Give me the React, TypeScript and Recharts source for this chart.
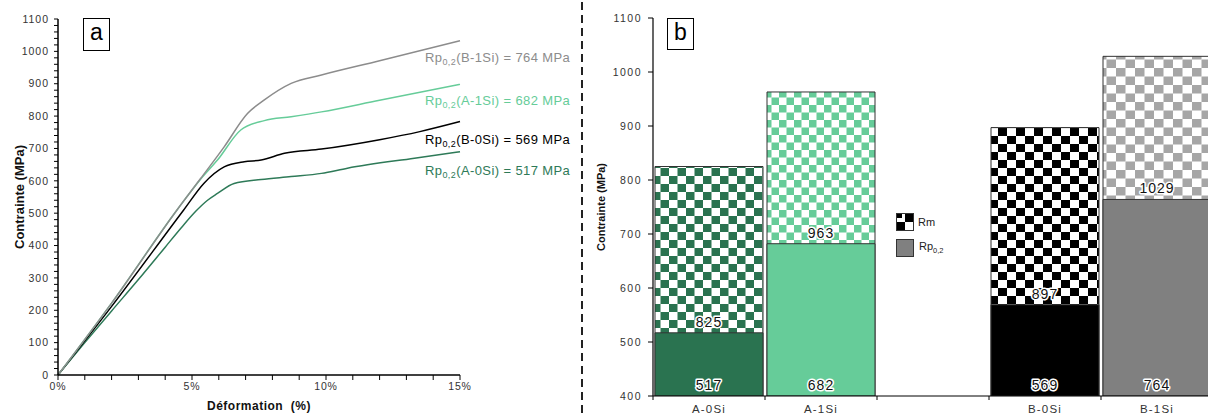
import React from 'react';
import { LineChart, Line, BarChart, Bar, XAxis, YAxis, Cell, LabelList, Legend } from 'recharts';

// curve (a): strain in %, stress in MPa
const b1siStrain = [0, 2, 4.44, 5.32, 6.2, 7.07, 7.7, 8.7, 9.83, 12, 15];
const b1siStress = [0, 222, 510, 607, 705, 808, 850, 901, 927, 971, 1033];
const a1siStrain = [0, 2, 4.44, 5.32, 5.95, 6.82, 7.7, 8.7, 9.83, 12, 15];
const a1siStress = [0, 222, 510, 605, 664, 757, 786, 798, 813, 849, 898];
const b0siStrain = [0, 2, 4.69, 5.44, 6.2, 6.95, 7.58, 8.45, 9.83, 12, 13.5, 15];
const b0siStress = [0, 212, 510, 592, 643, 659, 664, 685, 698, 727, 752, 783];
const a0siStrain = [0, 1, 2, 3, 4, 4.6, 5.13, 5.58, 5.95, 6.57, 7.58, 8.7, 9.83, 10.8, 13.3, 15];
const a0siStress = [0, 100, 198, 295, 395, 455, 505, 540, 561, 592, 604, 613, 623, 639, 670, 690];

// chart (b)
const categories = ['A-0Si', 'A-1Si', '', 'B-0Si', 'B-1Si'];
const rpValues = [517, 682, null, 569, 764];
const rmValues = [825, 963, null, 897, 1029];

const strainTicks = [0, 1, 2, 3, 4, 5, 6, 7, 8, 9, 10, 11, 12, 13, 14, 15];
const strainLabels = ['0%', '5%', '10%', '15%'];
const stressTicksA = Array.from({ length: 56 }, (_, i) => i * 20);
const stressTicksB = [400, 500, 600, 700, 800, 900, 1000, 1100];

const FONT = "'Liberation Sans', Arial, sans-serif";
const solidColors = ['#2a7350', '#66cc99', 'none', '#000000', '#808080'];
const patternIds = ['chkA0', 'chkA1', '', 'chkB0', 'chkB1'];
const curveColors = { b1: '#8c8c8c', a1: '#66cc99', b0: '#000000', a0: '#2e7a58' };

const toPoints = (xs: number[], ys: number[]) => xs.map((x, i) => ({ x, y: ys[i] }));

const barData = categories.map((name, i) => ({ name, rp: rpValues[i], rm: rmValues[i] }));

const BAND = (629 - 69) / categories.length;

const halo: any = { stroke: '#fff', strokeWidth: 3, paintOrder: 'stroke', strokeLinejoin: 'round' };

const BandTick = (props: any) => {
  const { x, y, payload } = props;
  return (
    <g>
      <line x1={x - BAND / 2} y1={y} x2={x - BAND / 2} y2={y + 4} stroke="#000" />
      <text x={x} y={y + 13} textAnchor="middle" dominantBaseline="central" fontSize={11.5}
        letterSpacing={1.2} fill="#333" fontFamily={FONT}>{payload.value}</text>
    </g>
  );
};

const RpLabel = (props: any) => {
  const vb = props.viewBox || props;
  if (props.value == null) return null;
  return (
    <text x={vb.x + vb.width / 2} y={vb.y + vb.height - 11} textAnchor="middle" dominantBaseline="central"
      fontSize={14} letterSpacing={1} fill="#111" fontFamily={FONT} style={halo}>{props.value}</text>
  );
};

const RmLabel = (props: any) => {
  const vb = props.viewBox || props;
  if (props.value == null) return null;
  return (
    <text x={vb.x + vb.width / 2} y={vb.y - 11} textAnchor="middle" dominantBaseline="central"
      fontSize={14} letterSpacing={1} fill="#111" fontFamily={FONT} style={halo}>{props.value}</text>
  );
};

const renderLegend = () => (
  <div style={{ fontFamily: FONT, fontSize: 11, color: '#222' }}>
    <div style={{ display: 'flex', alignItems: 'center', height: 18, marginBottom: 8 }}>
      <svg width={18} height={18}>
        <rect x={0.5} y={0.5} width={17} height={17} fill="#fff" stroke="#333" />
        <rect x={9} y={1} width={8} height={8} fill="#000" />
        <rect x={1} y={9} width={8} height={8} fill="#000" />
        <rect x={1} y={1} width={5} height={4} fill="#000" />
      </svg>
      <span style={{ marginLeft: 4, color: '#222' }}>Rm</span>
    </div>
    <div style={{ display: 'flex', alignItems: 'center', height: 18 }}>
      <svg width={18} height={18}>
        <rect x={0.5} y={0.5} width={17} height={17} fill="#808080" stroke="#333" />
      </svg>
      <span style={{ marginLeft: 5, color: '#222' }}>Rp<sub style={{ fontSize: 7.5, color: '#222' }}>0,2</sub></span>
    </div>
  </div>
);

const checker = (id: string, w: number, h: number, color: string) => (
  <pattern id={id} width={w} height={h} patternUnits="userSpaceOnUse" key={id}>
    <rect width={w} height={h} fill="#fff" />
    <rect x={0} y={0} width={w / 2} height={h / 2} fill={color} />
    <rect x={w / 2} y={h / 2} width={w / 2} height={h / 2} fill={color} />
  </pattern>
);

const noteTops = [60, 103, 142, 173];
const noteOrder = [4, 1, 3, 0];
const noteColors = [curveColors.b1, curveColors.a1, curveColors.b0, curveColors.a0];

const App = () => {
  return (
    <div style={{ position: 'absolute', left: 0, top: 0, width: 1208, height: 416, overflow: 'hidden', background: '#fff', fontFamily: FONT }}>
      {/* (a) stress-strain curves */}
      <div style={{ position: 'absolute', left: 0, top: 0 }}>
        <LineChart width={584} height={416} margin={{ top: 19, right: 124, bottom: 0, left: 0 }}>
          <XAxis type="number" dataKey="x" domain={[0, 15]} ticks={strainTicks} interval={0}
            tickFormatter={(v) => (v % 5 === 0 ? strainLabels[v / 5] : '')}
            height={41} tickSize={5} tickMargin={3}
            axisLine={{ stroke: '#000', strokeWidth: 1.5 }} tickLine={{ stroke: '#000' }}
            tick={{ fontSize: 10.5, fill: '#333', letterSpacing: 0.9, fontFamily: FONT }}
            label={{ value: 'Déformation\u00A0 (%)', position: 'insideBottom', offset: 6,
              style: { fontSize: 12, fontWeight: 'bold', fill: '#111', letterSpacing: 0.5, fontFamily: FONT } }} />
          <YAxis type="number" domain={[0, 1100]} ticks={stressTicksA} interval={0}
            tickFormatter={(v) => (v % 100 === 0 ? String(v) : '')}
            width={58} tickSize={4} tickMargin={5}
            axisLine={{ stroke: '#000', strokeWidth: 1.5 }} tickLine={{ stroke: '#000' }}
            tick={{ fontSize: 10.5, fill: '#333', letterSpacing: 1, fontFamily: FONT }}
            label={{ value: 'Contrainte (MPa)', angle: -90, position: 'insideLeft', offset: 19,
              style: { textAnchor: 'middle', fontSize: 13, fontWeight: 'bold', fill: '#111', fontFamily: FONT } }} />
          <Line data={toPoints(a0siStrain, a0siStress)} dataKey="y" type="monotone" stroke={curveColors.a0} strokeWidth={1.5} dot={false} isAnimationActive={false} />
          <Line data={toPoints(b0siStrain, b0siStress)} dataKey="y" type="monotone" stroke={curveColors.b0} strokeWidth={1.5} dot={false} isAnimationActive={false} />
          <Line data={toPoints(a1siStrain, a1siStress)} dataKey="y" type="monotone" stroke={curveColors.a1} strokeWidth={1.5} dot={false} isAnimationActive={false} />
          <Line data={toPoints(b1siStrain, b1siStress)} dataKey="y" type="monotone" stroke={curveColors.b1} strokeWidth={1.5} dot={false} isAnimationActive={false} />
        </LineChart>
      </div>

      <div style={{ position: 'absolute', left: 83, top: 18, width: 25, height: 31, border: '1.5px solid #000',
        display: 'flex', alignItems: 'center', justifyContent: 'center', fontSize: 23, lineHeight: 1 }}>
        <span style={{ marginTop: -4 }}>a</span>
      </div>

      {noteOrder.map((ci, k) => (
        <div key={ci} style={{ position: 'absolute', left: 425, top: noteTops[k], transform: 'translateY(-50%)',
          fontSize: 13, letterSpacing: 0.4, color: noteColors[k], whiteSpace: 'nowrap', lineHeight: '16px' }}>
          Rp<sub style={{ fontSize: 9 }}>0,2</sub>({categories[ci]}) = {rpValues[ci]} MPa
        </div>
      ))}

      {/* divider */}
      <svg style={{ position: 'absolute', left: 578, top: 0 }} width={8} height={416}>
        <line x1={4} y1={2} x2={4} y2={416} stroke="#222" strokeWidth={2} strokeDasharray="8 5" />
      </svg>

      {/* (b) Rm / Rp0,2 bars */}
      <div style={{ position: 'absolute', left: 584, top: 0 }}>
        <BarChart width={629} height={416} data={barData} barCategoryGap={2}
          margin={{ top: 18, right: 0, bottom: 0, left: 0 }}>
          <defs>
            {checker('chkA0', 17, 16, solidColors[0])}
            {checker('chkA1', 15, 15, solidColors[1])}
            {checker('chkB0', 18, 16, solidColors[3])}
            {checker('chkB1', 19, 17, '#a6a6a6')}
          </defs>
          <XAxis xAxisId="main" dataKey="name" interval={0} height={20} tickSize={0} tickMargin={0}
            tickLine={false} axisLine={{ stroke: '#000' }} tick={<BandTick />} />
          <XAxis xAxisId="over" dataKey="name" hide />
          <YAxis type="number" domain={[400, 1100]} ticks={stressTicksB} interval={0} allowDataOverflow
            width={69} tickSize={5} tickMargin={6}
            axisLine={{ stroke: '#000', strokeWidth: 1.2 }} tickLine={{ stroke: '#000' }}
            tick={{ fontSize: 10.5, fill: '#333', letterSpacing: 1.5, fontFamily: FONT }}
            label={{ value: 'Contrainte (MPa)', angle: -90, position: 'insideLeft', offset: 17,
              style: { textAnchor: 'middle', fontSize: 11, fontWeight: 'bold', fill: '#111', fontFamily: FONT } }} />
          <Legend layout="vertical" align="center" verticalAlign="middle" content={renderLegend}
            wrapperStyle={{ left: 312, top: 213, width: 80 }} />
          <Bar xAxisId="main" dataKey="rm" name="Rm" stroke="#333" strokeWidth={1} isAnimationActive={false}>
            {barData.map((d, i) => <Cell key={i} fill={`url(#${patternIds[i]})`} />)}
          </Bar>
          <Bar xAxisId="over" dataKey="rp" name="Rp0,2" stroke="#333" strokeWidth={1} isAnimationActive={false}>
            {barData.map((d, i) => <Cell key={i} fill={solidColors[i]} />)}
            <LabelList dataKey="rp" content={<RpLabel />} />
            <LabelList dataKey="rm" content={<RmLabel />} />
          </Bar>
        </BarChart>
      </div>

      <div style={{ position: 'absolute', left: 667, top: 18, width: 25, height: 30, border: '1.5px solid #000',
        display: 'flex', alignItems: 'center', justifyContent: 'center', fontSize: 23, lineHeight: 1 }}>
        <span style={{ marginTop: -3 }}>b</span>
      </div>
    </div>
  );
};

export default App;
